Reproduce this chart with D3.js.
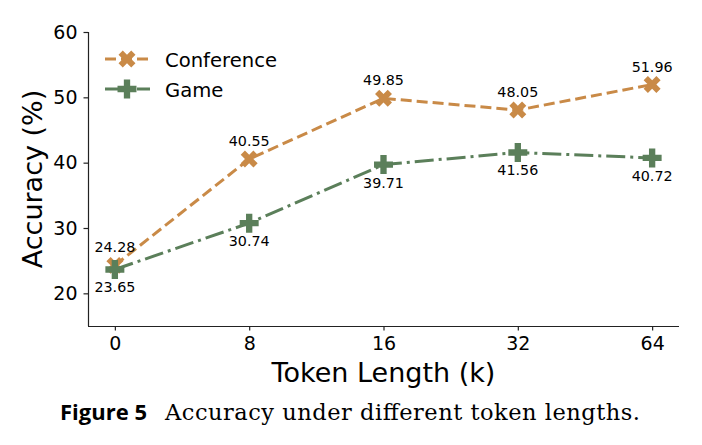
<!DOCTYPE html>
<html>
<meta charset="utf-8">
<head>
<style>
body { margin: 0; background: #fff; }
text { font-family: "DejaVu Sans", sans-serif; }
</style>
</head>
<body>
<script src="https://cdn.jsdelivr.net/npm/d3@7"></script>
<script>
// data
var tokenLengths = ["0", "8", "16", "32", "64"];
var conference = [24.28, 40.55, 49.85, 48.05, 51.96];
var game = [23.65, 30.74, 39.71, 41.56, 40.72];
var yTicks = [20, 30, 40, 50, 60];

var W = 702, H = 445;
var margin = {top: 32, right: 23, bottom: 119, left: 88};
var width = W - margin.left - margin.right,
    height = H - margin.top - margin.bottom;

var svg = d3.select("body").append("svg")
    .attr("width", W)
    .attr("height", H);

var g = svg.append("g")
    .attr("transform", "translate(" + margin.left + "," + margin.top + ")");

var x = d3.scaleLinear()
    .domain([-0.2, tokenLengths.length - 0.8])
    .range([0, width]);

var y = d3.scaleLinear()
    .domain([15, 60])
    .range([height, 0]);

var series = [
  {name: "Conference", values: conference, color: "#C98A47", dash: "11,5", rot: 45, size: 180, labelDy: -13},
  {name: "Game", values: game, color: "#5B7F5A", dash: "19,5,3,5", rot: 0, size: 200, labelDy: 23}
];

// axes, only left and bottom spines
var xAxis = g.append("g")
    .attr("transform", "translate(0," + height + ")")
    .call(d3.axisBottom(x).tickValues(d3.range(tokenLengths.length))
      .tickFormat(i => tokenLengths[i]).tickSize(4.5).tickPadding(6.5));

var yAxis = g.append("g")
    .call(d3.axisLeft(y).tickValues(yTicks).tickSize(4.5).tickPadding(6));

[xAxis, yAxis].forEach(function(a) {
  a.select(".domain").attr("stroke", "#222").attr("stroke-width", 1.2)
    .attr("d", a === xAxis ? "M0,0.5H" + width : "M0.5," + height + "V0");
  a.selectAll(".tick line").attr("stroke", "#222").attr("stroke-width", 1.2);
  a.selectAll(".tick text").style("font-size", "19px").attr("fill", "#000");
});

svg.append("text")
    .attr("x", margin.left + width / 2)
    .attr("y", 382)
    .style("text-anchor", "middle")
    .style("font-size", "27px")
    .text("Token Length (k)");

svg.append("text")
    .attr("transform", "translate(42," + (margin.top + height / 2) + ") rotate(-90)")
    .style("text-anchor", "middle")
    .style("font-size", "27px")
    .text("Accuracy (%)");

var line = d3.line()
    .x((d, i) => x(i))
    .y(d => y(d));

series.forEach(function(s) {
  var sym = d3.symbol().type(d3.symbolCross).size(s.size);
  var sg = g.append("g");
  sg.append("path")
    .attr("d", line(s.values))
    .attr("fill", "none")
    .attr("stroke", s.color)
    .attr("stroke-width", 3)
    .attr("stroke-dasharray", s.dash);
  sg.selectAll(".mk")
    .data(s.values).enter()
    .append("path")
    .attr("d", sym)
    .attr("transform", (d, i) => "translate(" + x(i) + "," + y(d) + ") rotate(" + s.rot + ")")
    .attr("fill", s.color);
  sg.selectAll(".lbl")
    .data(s.values).enter()
    .append("text")
    .attr("x", (d, i) => x(i))
    .attr("y", d => y(d) + s.labelDy)
    .style("text-anchor", "middle")
    .style("font-size", "14.3px")
    .text(d => d.toFixed(2));
});

// legend
var legend = g.append("g").attr("transform", "translate(17,27)");
series.forEach(function(s, i) {
  var sym = d3.symbol().type(d3.symbolCross).size(s.size);
  var lg = legend.append("g").attr("transform", "translate(0," + (i * 30) + ")");
  lg.append("line")
    .attr("x1", 0).attr("x2", 45)
    .attr("stroke", s.color)
    .attr("stroke-width", 3)
    .attr("stroke-dasharray", s.dash);
  lg.append("path")
    .attr("d", sym)
    .attr("transform", "translate(22,0) rotate(" + s.rot + ")")
    .attr("fill", s.color);
  lg.append("text")
    .attr("x", 60)
    .attr("y", 8)
    .style("font-size", "19.6px")
    .text(s.name);
});

// caption
var cap = svg.append("text").attr("x", 60).attr("y", 420).style("font-size", "22px");
cap.append("tspan")
    .style("font-family", "'Open Sans', sans-serif")
    .style("font-weight", "bold")
    .text("Figure 5");
cap.append("tspan")
    .attr("x", 165)
    .attr("textLength", 475)
    .attr("lengthAdjust", "spacing")
    .style("font-family", "'DejaVu Serif', serif")
    .style("font-size", "22.5px")
    .text("Accuracy under different token lengths.");
</script>
</body>
</html>
